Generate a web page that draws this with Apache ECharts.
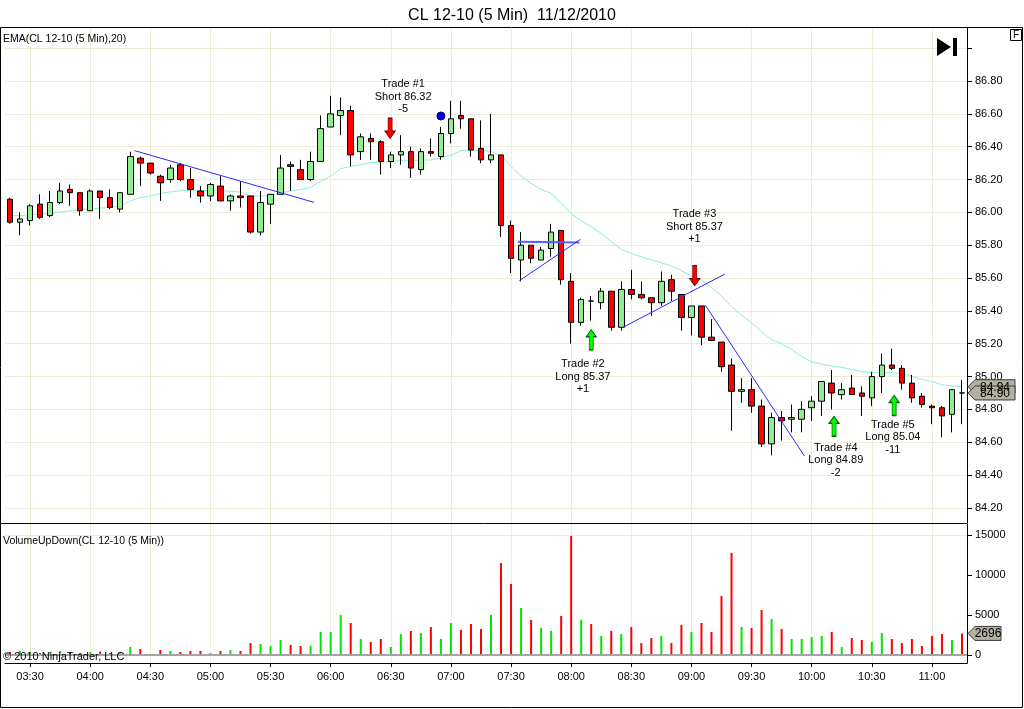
<!DOCTYPE html>
<html>
<head>
<meta charset="utf-8">
<title>CL 12-10 (5 Min)</title>
<script src="https://cdn.jsdelivr.net/npm/echarts@6/dist/echarts.min.js"></script>
<style>
  html, body { margin: 0; padding: 0; background: #fff; }
  #chart { width: 1024px; height: 709px; }
</style>
</head>
<body>
<div id="chart"></div>
<script>
// 5-minute bars, 03:20 .. 11:15
const times = [
  '03:20', '03:25', '03:30', '03:35', '03:40', '03:45', '03:50', '03:55',
  '04:00', '04:05', '04:10', '04:15', '04:20', '04:25', '04:30', '04:35', '04:40', '04:45', '04:50', '04:55',
  '05:00', '05:05', '05:10', '05:15', '05:20', '05:25', '05:30', '05:35', '05:40', '05:45', '05:50', '05:55',
  '06:00', '06:05', '06:10', '06:15', '06:20', '06:25', '06:30', '06:35', '06:40', '06:45', '06:50', '06:55',
  '07:00', '07:05', '07:10', '07:15', '07:20', '07:25', '07:30', '07:35', '07:40', '07:45', '07:50', '07:55',
  '08:00', '08:05', '08:10', '08:15', '08:20', '08:25', '08:30', '08:35', '08:40', '08:45', '08:50', '08:55',
  '09:00', '09:05', '09:10', '09:15', '09:20', '09:25', '09:30', '09:35', '09:40', '09:45', '09:50', '09:55',
  '10:00', '10:05', '10:10', '10:15', '10:20', '10:25', '10:30', '10:35', '10:40', '10:45', '10:50', '10:55',
  '11:00', '11:05', '11:10', '11:15'
];

const opens = [
  86.08, 85.94, 85.95, 86.05, 85.98, 86.06, 86.14, 86.12,
  86.01, 86.13, 86.09, 86.02, 86.11, 86.33, 86.30, 86.22, 86.20, 86.29, 86.20, 86.13,
  86.10, 86.16, 86.07, 86.10, 86.10, 85.88, 86.05, 86.11, 86.29, 86.26, 86.20, 86.31,
  86.52, 86.59, 86.62, 86.37, 86.45, 86.43, 86.31, 86.35, 86.37, 86.26, 86.37, 86.34,
  86.48, 86.59, 86.57, 86.39, 86.32, 86.35, 85.92, 85.71, 85.80, 85.71, 85.78, 85.89,
  85.58, 85.33, 85.46, 85.45, 85.52, 85.30, 85.53, 85.50, 85.48, 85.45, 85.59, 85.50,
  85.36, 85.43, 85.24, 85.21, 85.07, 84.91, 84.92, 84.82, 84.59, 84.75, 84.74, 84.74,
  84.81, 84.85, 84.96, 84.89, 84.93, 84.90, 84.87, 85.00, 85.07, 85.05, 84.96, 84.88,
  84.82, 84.81, 84.77, 84.90
];
const closes = [
  85.94, 85.96, 86.04, 85.97, 86.06, 86.13, 86.12, 86.01,
  86.13, 86.09, 86.03, 86.12, 86.34, 86.30, 86.24, 86.18, 86.27, 86.20, 86.14, 86.10,
  86.17, 86.07, 86.10, 86.09, 85.88, 86.06, 86.11, 86.27, 86.28, 86.20, 86.31, 86.51,
  86.60, 86.62, 86.35, 86.46, 86.43, 86.31, 86.35, 86.37, 86.27, 86.37, 86.36, 86.48,
  86.57, 86.57, 86.38, 86.32, 86.35, 85.92, 85.72, 85.80, 85.72, 85.77, 85.88, 85.59,
  85.33, 85.47, 85.46, 85.52, 85.30, 85.53, 85.50, 85.48, 85.45, 85.58, 85.52, 85.36,
  85.43, 85.24, 85.22, 85.06, 84.91, 84.92, 84.82, 84.59, 84.75, 84.73, 84.75, 84.80,
  84.85, 84.97, 84.90, 84.92, 84.89, 84.88, 85.00, 85.07, 85.05, 84.96, 84.87, 84.83,
  84.81, 84.76, 84.92, 84.90
];
const lows = [
  85.93, 85.86, 85.92, 85.96, 85.97, 86.05, 86.04, 85.98,
  86.01, 85.96, 86.02, 86.00, 86.11, 86.16, 86.23, 86.07, 86.18, 86.19, 86.09, 86.06,
  86.07, 86.07, 86.01, 86.03, 85.87, 85.86, 85.93, 86.11, 86.13, 86.20, 86.19, 86.31,
  86.52, 86.47, 86.28, 86.32, 86.32, 86.23, 86.27, 86.29, 86.21, 86.23, 86.34, 86.32,
  86.42, 86.51, 86.34, 86.30, 86.30, 85.85, 85.63, 85.58, 85.69, 85.71, 85.73, 85.56,
  85.20, 85.31, 85.34, 85.41, 85.28, 85.28, 85.47, 85.47, 85.37, 85.43, 85.46, 85.28,
  85.25, 85.19, 85.22, 85.03, 84.67, 84.84, 84.78, 84.57, 84.52, 84.61, 84.66, 84.66,
  84.73, 84.76, 84.80, 84.86, 84.89, 84.76, 84.82, 84.90, 85.04, 84.92, 84.84, 84.81,
  84.71, 84.63, 84.66, 84.71
];
const highs = [
  86.09, 86.00, 86.05, 86.11, 86.13, 86.18, 86.17, 86.12,
  86.14, 86.13, 86.14, 86.12, 86.37, 86.34, 86.30, 86.23, 86.29, 86.30, 86.27, 86.16,
  86.18, 86.22, 86.11, 86.19, 86.10, 86.13, 86.11, 86.35, 86.31, 86.32, 86.37, 86.59,
  86.71, 86.70, 86.65, 86.48, 86.48, 86.44, 86.37, 86.47, 86.40, 86.39, 86.45, 86.52,
  86.68, 86.68, 86.57, 86.56, 86.60, 86.35, 85.95, 85.88, 85.80, 85.79, 85.93, 85.89,
  85.63, 85.48, 85.49, 85.54, 85.52, 85.58, 85.65, 85.58, 85.48, 85.64, 85.62, 85.50,
  85.43, 85.43, 85.35, 85.21, 85.11, 84.99, 84.99, 84.86, 84.78, 84.79, 84.83, 84.85,
  84.88, 84.97, 85.04, 84.96, 85.01, 84.94, 85.03, 85.14, 85.17, 85.07, 85.01, 84.90,
  84.83, 84.82, 84.92, 84.98
];

// EMA(20) as plotted
const ema = [
  85.980, 85.980, 85.986, 85.990, 85.994, 86.002, 86.010, 86.018,
  86.020, 86.026, 86.030, 86.039, 86.070, 86.090, 86.100, 86.116, 86.124, 86.132, 86.134, 86.134,
  86.132, 86.132, 86.128, 86.124, 86.100, 86.100, 86.100, 86.120, 86.130, 86.140, 86.152, 86.190,
  86.220, 86.266, 86.280, 86.290, 86.303, 86.307, 86.310, 86.315, 86.315, 86.319, 86.319, 86.330,
  86.347, 86.376, 86.380, 86.376, 86.372, 86.343, 86.280, 86.220, 86.177, 86.140, 86.116, 86.055,
  85.994, 85.949, 85.913, 85.872, 85.821, 85.775, 85.750, 85.730, 85.710, 85.693, 85.673, 85.645,
  85.612, 85.588, 85.543, 85.490, 85.425, 85.375, 85.328, 85.273, 85.226, 85.200, 85.165, 85.122,
  85.088, 85.076, 85.064, 85.056, 85.044, 85.030, 85.024, 85.024, 85.024, 85.016, 85.003, 84.983,
  84.969, 84.950, 84.943, 84.938
];

const volumes = [
  375, 500, 375, 250, 375, 500, 375, 250,
  375, 420, 250, 375, 1000, 750, 125, 625, 500, 375, 500, 500,
  250, 500, 625, 500, 1500, 1375, 1125, 1875, 1250, 1125, 1125, 2875,
  2875, 5000, 4000, 2000, 1625, 2000, 1000, 2625, 3000, 2750, 3500, 2000,
  4000, 3125, 3875, 3250, 5000, 11500, 8875, 5875, 4375, 3375, 3000, 4875,
  14875, 4375, 3875, 2375, 3000, 2625, 3500, 1500, 2125, 2375, 1500, 3750,
  2875, 4000, 2875, 7375, 12750, 3500, 3375, 5625, 4500, 3250, 2000, 2000,
  2250, 2375, 2875, 1000, 2125, 1875, 1625, 2750, 2000, 1500, 2000, 1125,
  2375, 2625, 1875, 2696
];

const priceTicks = [84.2, 84.4, 84.6, 84.8, 85.0, 85.2, 85.4, 85.6, 85.8, 86.0, 86.2, 86.4, 86.6, 86.8, 87.0];
const priceLabels = [84.2, 84.4, 84.6, 84.8, 85.0, 85.2, 85.4, 85.6, 85.8, 86.0, 86.2, 86.4, 86.6, 86.8];
const volumeTicks = [0, 5000, 10000, 15000];

// hand-drawn trend lines, [bar index, price]
const trendLines = [
  [[12.43, 86.376], [30.33, 86.061]],
  [[50.67, 85.821], [56.83, 85.817]],
  [[50.83, 85.584], [56.93, 85.836]],
  [[61.17, 85.300], [71.33, 85.624]],
  [[69.40, 85.434], [79.27, 84.516]]
];

// trade markers
const tradeText = ['Trade #1\nShort 86.32\n-5', 'Trade #2\nLong 85.37\n+1', 'Trade #3\nShort 85.37\n+1',
  'Trade #4\nLong 84.89\n-2', 'Trade #5\nLong 85.04\n-11'];
const tradeTextX = [39.23, 57.17, 68.30, 82.40, 88.10];
const tradeTextY = [86.704, 85.000, 85.913, 84.490, 84.630];
const arrowX = [37.93, 58.00, 68.33, 82.23, 88.23];
const arrowY = [86.512, 85.224, 85.615, 84.697, 84.824];
const arrowDir = ['down', 'up', 'down', 'up', 'up'];
const dotPoint = [43, 86.587];

const FONT = '"Liberation Sans", Arial, sans-serif';
const GRID = '#efedda';
const UP_FILL = '#90ee90';
const DOWN_FILL = '#ff0000';
const UP_VOL = '#00e600';
const DOWN_VOL = '#ff0000';
const DOWN_ARROW = 'path://M3,0 L7,0 L7,13 L10,13 L5,20 L0,13 L3,13 Z';
const UP_ARROW = 'path://M5,0 L10,7 L7,7 L7,20 L3,20 L3,7 L0,7 Z';

const onHalfHour = (i, v) => v.endsWith(':00') || v.endsWith(':30');
const gridIdx = times.map((t, i) => (onHalfHour(i, t) ? i : -1)).filter(i => i >= 0);

const candles = opens.map((o, i) => [o, closes[i], lows[i], highs[i]]);
const volData = volumes.map((v, i) => ({
  value: v,
  itemStyle: { color: closes[i] > opens[i] ? UP_VOL : DOWN_VOL }
}));

const chart = echarts.init(document.getElementById('chart'));

const overlayAxis = gridIndex => ({
  type: 'value',
  gridIndex: gridIndex,
  min: -0.5,
  max: times.length - 0.5,
  axisLine: { show: false, onZero: false },
  axisLabel: { show: false },
  axisTick: { show: false, customValues: gridIdx },
  splitLine: { show: true, lineStyle: { color: GRID, width: 1 } }
});

const option = {
  animation: false,
  backgroundColor: '#fff',
  textStyle: { fontFamily: FONT },
  title: {
    text: 'CL 12-10 (5 Min)  11/12/2010',
    left: 'center',
    top: 3,
    textStyle: { fontSize: 16, fontWeight: 'normal', color: '#000', fontFamily: FONT }
  },
  grid: [
    { left: 5, right: 57, top: 28, height: 495 },
    { left: 5, right: 57, top: 524, height: 139 }
  ],
  xAxis: [
    {
      type: 'category', gridIndex: 0, data: times,
      axisLine: { show: false, onZero: false }, axisTick: { show: false },
      axisLabel: { show: false }, splitLine: { show: false }
    },
    {
      type: 'category', gridIndex: 1, data: times, position: 'bottom',
      axisLine: { show: true, onZero: false, lineStyle: { color: '#000', width: 1 } },
      axisTick: { show: true, alignWithLabel: true, interval: onHalfHour, length: 4, lineStyle: { color: '#000' } },
      axisLabel: { interval: onHalfHour, color: '#000', fontSize: 11, margin: 8, fontFamily: FONT },
      splitLine: { show: false }
    },
    overlayAxis(0),
    overlayAxis(1)
  ],
  yAxis: [
    {
      type: 'value', gridIndex: 0, position: 'right', min: 84.108, max: 87.123,
      axisLine: { show: true, onZero: false, lineStyle: { color: '#000', width: 1 } },
      axisTick: { show: true, length: 5, customValues: priceTicks, lineStyle: { color: '#000' } },
      axisLabel: {
        customValues: priceLabels, formatter: v => v.toFixed(2),
        color: '#000', fontSize: 11, margin: 8, fontFamily: FONT
      },
      splitLine: { show: true, lineStyle: { color: GRID, width: 1 } }
    },
    {
      type: 'value', gridIndex: 1, position: 'right', min: -1000, max: 16375,
      axisLine: { show: true, onZero: false, lineStyle: { color: '#000', width: 1 } },
      axisTick: { show: true, length: 5, customValues: volumeTicks, lineStyle: { color: '#000' } },
      axisLabel: {
        customValues: volumeTicks, formatter: v => String(Math.round(v)),
        color: '#000', fontSize: 11, margin: 8, fontFamily: FONT
      },
      splitLine: { show: false }
    }
  ],
  series: [
    {
      name: 'EMA', type: 'line', xAxisIndex: 0, yAxisIndex: 0, data: ema,
      symbol: 'none', z: 2,
      lineStyle: { color: '#8cf0d2', width: 1 }
    },
    {
      name: 'CL 12-10', type: 'candlestick', xAxisIndex: 0, yAxisIndex: 0, data: candles,
      barWidth: 6, z: 3,
      itemStyle: {
        color: UP_FILL, color0: DOWN_FILL,
        borderColor: '#000', borderColor0: '#000', borderColorDoji: '#000', borderWidth: 1
      }
    },
    {
      name: 'Volume', type: 'bar', xAxisIndex: 1, yAxisIndex: 1, data: volData,
      barWidth: 2, z: 3,
      markLine: {
        silent: true, symbol: ['none', 'none'], label: { show: false },
        data: [
          { yAxis: 0, lineStyle: { color: '#a4a4a4', width: 2, type: 'solid' } },
          { yAxis: 15000, lineStyle: { color: GRID, width: 1, type: 'solid' } }
        ]
      }
    }
  ].concat(trendLines.map((pts, k) => ({
    type: 'line', xAxisIndex: 2, yAxisIndex: 0, data: pts,
    symbol: 'none', z: 4, silent: true,
    lineStyle: k === 1 ? { color: '#5c5cff', width: 2 } : { color: '#2a2aff', width: 1 }
  }))).concat([
    {
      name: 'Trades', type: 'scatter', xAxisIndex: 2, yAxisIndex: 0, z: 6, silent: true,
      data: arrowX.map((x, i) => ({
        value: [x, arrowY[i]],
        symbol: arrowDir[i] === 'down' ? DOWN_ARROW : UP_ARROW,
        itemStyle: arrowDir[i] === 'down'
          ? { color: '#ff0000', borderColor: '#7a0000', borderWidth: 1, opacity: 1 }
          : { color: '#00ff00', borderColor: '#006400', borderWidth: 1, opacity: 1 }
      })),
      symbolSize: [10, 20]
    },
    {
      name: 'Dot', type: 'scatter', xAxisIndex: 2, yAxisIndex: 0, z: 6, silent: true,
      data: [dotPoint], symbolSize: 8,
      itemStyle: { color: '#0000ee', borderColor: '#000060', borderWidth: 1, opacity: 1 }
    },
    {
      name: 'Notes', type: 'scatter', xAxisIndex: 2, yAxisIndex: 0, z: 6, silent: true,
      data: tradeTextX.map((x, i) => ({ value: [x, tradeTextY[i]], note: tradeText[i] })),
      symbol: 'rect', symbolSize: 1,
      itemStyle: { color: 'rgba(0,0,0,0)', opacity: 1 },
      label: {
        show: true, position: 'inside', formatter: p => p.data.note,
        color: '#000', opacity: 1, fontSize: 11, lineHeight: 12.5, align: 'center',
        textBorderWidth: 0, fontFamily: FONT
      }
    }
  ])
};

chart.setOption(option);

// static decorations: frame, pane legends, small icons
const graphics = [
  { id: 'frame', type: 'rect', z: 100, silent: true,
    shape: { x: 0.5, y: 27.5, width: 1022, height: 680 },
    style: { fill: 'none', stroke: '#000', lineWidth: 1 } },
  { id: 'sep', type: 'line', z: 100, silent: true,
    shape: { x1: 0, y1: 523.5, x2: 967, y2: 523.5 },
    style: { stroke: '#000', lineWidth: 1 } },
  { id: 'emaLegend', type: 'text', z: 100, silent: true,
    style: { text: 'EMA(CL 12-10 (5 Min),20)', x: 3, y: 39.5, fill: '#000',
      font: '10.5px ' + FONT, textVerticalAlign: 'middle' } },
  { id: 'volLegend', type: 'text', z: 100, silent: true,
    style: { text: 'VolumeUpDown(CL 12-10 (5 Min))', x: 3, y: 541, fill: '#000',
      font: '10.5px ' + FONT, textVerticalAlign: 'middle' } },
  { id: 'copy', type: 'text', z: 100, silent: true,
    style: { text: '\u00a9 2010 NinjaTrader, LLC', x: 3, y: 657, fill: '#000',
      font: '11px ' + FONT, textVerticalAlign: 'middle' } },
  { id: 'fBox', type: 'rect', z: 100, silent: true,
    shape: { x: 1010.5, y: 29.5, width: 11, height: 11 },
    style: { fill: '#fff', stroke: '#000', lineWidth: 1 } },
  { id: 'fText', type: 'text', z: 101, silent: true,
    style: { text: 'F', x: 1016, y: 35.5, fill: '#000', font: '10px ' + FONT,
      textAlign: 'center', textVerticalAlign: 'middle' } },
  { id: 'playTri', type: 'polygon', z: 100, silent: true,
    shape: { points: [[937, 38], [951, 47], [937, 56]] }, style: { fill: '#000' } },
  { id: 'playBar', type: 'rect', z: 100, silent: true,
    shape: { x: 953, y: 38, width: 4, height: 18 }, style: { fill: '#000' } }
];

// value tags on the right axes, placed through the axis scales
function tag(id, yAxisIndex, value, text, width) {
  const y = chart.convertToPixel({ yAxisIndex: yAxisIndex }, value);
  const x0 = 968;
  const h = 7;
  graphics.push({
    id: id + 'Box', type: 'polygon', z: 102, silent: true,
    shape: { points: [[x0, y], [x0 + 7, y - h], [x0 + width, y - h], [x0 + width, y + h], [x0 + 7, y + h]] },
    style: { fill: '#b2b0a0', stroke: '#3c3c3c', lineWidth: 1 }
  });
  graphics.push({
    id: id + 'Txt', type: 'text', z: 103, silent: true,
    style: { text: text, x: x0 + 7 + (width - 7) / 2, y: y + 0.5, fill: '#000',
      font: '12px ' + FONT, textAlign: 'center', textVerticalAlign: 'middle' }
  });
}

const lastEma = ema[ema.length - 1];
const lastClose = closes[closes.length - 1];
const lastVol = volumes[volumes.length - 1];
tag('ema', 0, lastEma, lastEma.toFixed(2), 47);
tag('price', 0, lastClose, lastClose.toFixed(2), 47);
tag('vol', 1, lastVol, String(lastVol), 33);

chart.setOption({ graphic: graphics });
</script>
</body>
</html>
